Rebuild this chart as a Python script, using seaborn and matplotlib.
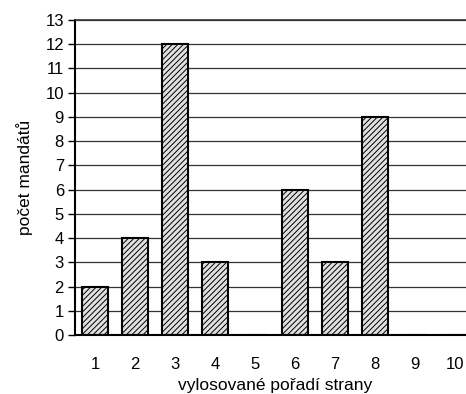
import numpy as np
import pandas as pd
import seaborn as sns
import matplotlib.pyplot as plt

# data
poradi = ["1", "2", "3", "4", "5", "6", "7", "8", "9", "10"]
mandaty = [2, 4, 12, 3, 0, 6, 3, 9, 0, 0]

df = pd.DataFrame({"poradi": poradi, "mandaty": mandaty})

sns.set_style("white")
plt.rcParams["font.family"] = ["Liberation Sans", "DejaVu Sans"]
plt.rcParams["hatch.linewidth"] = 0.7
plt.rcParams["hatch.color"] = "#333333"
plt.rcParams["text.color"] = "black"
plt.rcParams["axes.labelcolor"] = "black"
plt.rcParams["xtick.color"] = "black"
plt.rcParams["ytick.color"] = "black"

fig = plt.figure(figsize=(4.66, 3.94), dpi=100)
ax = fig.add_axes([75 / 466, 59 / 394, 400 / 466, 315 / 394])

sns.barplot(data=df, x="poradi", y="mandaty", color="#e0e0e0", saturation=1,
            edgecolor="black", linewidth=1.5, width=0.65, hatch="//////", ax=ax)

ax.set_ylim(0, 13)
ax.set_xlim(-0.5, 9.5)
ax.set_yticks(range(0, 14))
ax.yaxis.grid(True, color="#333333", linewidth=0.9)
ax.set_axisbelow(True)

# ticks between categories
ax.set_xticks(np.arange(-0.5, 10, 1), minor=True)
ax.tick_params(axis="x", which="major", length=0, pad=16, labelsize=12)
ax.tick_params(axis="x", which="minor", length=5, width=1, color="black", direction="out")
ax.tick_params(axis="y", length=5, width=1, color="black", direction="out", labelsize=12, pad=3)
ax.tick_params(bottom=True, left=True)

for side in ["left", "bottom"]:
    ax.spines[side].set_color("black")
    ax.spines[side].set_linewidth(1.5)
ax.spines["top"].set_color("#333333")
ax.spines["top"].set_linewidth(1.2)
ax.spines["right"].set_visible(False)

ax.set_xlabel("vylosované pořadí strany", fontsize=12.5, labelpad=4)
ax.set_ylabel("počet mandátů", fontsize=12.5, labelpad=9)

fig.savefig("out.png", dpi=100)
